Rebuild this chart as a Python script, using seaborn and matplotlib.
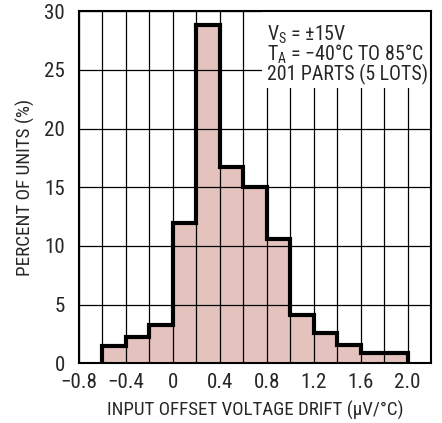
import numpy as np
import pandas as pd
import matplotlib
matplotlib.use("Agg")
import matplotlib.pyplot as plt
import seaborn as sns
from matplotlib.patches import Rectangle

# bin edges (uV/C) and percent of units in each bin
bin_edges = [-0.6, -0.4, -0.2, 0.0, 0.2, 0.4, 0.6, 0.8, 1.0, 1.2, 1.4, 1.6, 1.8, 2.0]
percent = [1.5, 2.2, 3.3, 12.0, 28.8, 16.7, 15.0, 10.6, 4.1, 2.6, 1.6, 0.9, 0.9]
xtick_vals = [-0.8, -0.4, 0.0, 0.4, 0.8, 1.2, 1.6, 2.0]
xtick_labels = ["\u22120.8", "\u22120.4", "0", "0.4", "0.8", "1.2", "1.6", "2.0"]
ytick_vals = [0, 5, 10, 15, 20, 25, 30]
notes = ["V$_{\\mathregular{S}}$ = \u00b115V",
         "T$_{\\mathregular{A}}$ = \u221240\u00b0C TO 85\u00b0C",
         "201 PARTS (5 LOTS)"]

sns.set_style("white")
plt.rcParams['font.family'] = ['Roboto Condensed', 'DejaVu Sans Condensed',
                               'Liberation Sans', 'DejaVu Sans']
plt.rcParams['font.stretch'] = 'condensed'

edges = np.array(bin_edges)
df = pd.DataFrame({"drift": (edges[:-1] + edges[1:]) / 2, "pct": percent})

fig = plt.figure(figsize=(4.42, 4.23), dpi=100)
ax = fig.add_axes([79 / 442, 1 - 363.3 / 423, 352 / 442, 352 / 423])

# filled bars
sns.histplot(data=df, x="drift", weights="pct", bins=list(bin_edges), stat="count",
             color="#e4c2bd", alpha=1, linewidth=0, ax=ax)
# thick outline of the histogram
ax.stairs(percent, edges, color="black", linewidth=3, baseline=0, zorder=4)

ax.set_xlim(-0.8, 2.2)
ax.set_ylim(0, 30)
ax.set_xticks(xtick_vals)
ax.set_xticklabels(xtick_labels)
ax.set_xticks(np.arange(-0.8, 2.21, 0.2), minor=True)
ax.set_yticks(ytick_vals)
ax.grid(True, which="both", color="black", linewidth=0.9)
ax.set_axisbelow(False)
ax.tick_params(which="both", length=0, labelsize=12.5)
for s in ax.spines.values():
    s.set_color("black")
    s.set_linewidth(1.5)
    s.set_zorder(5)

ax.set_xlabel("INPUT OFFSET VOLTAGE DRIFT (\u03bcV/\u00b0C)", fontsize=12.5)
ax.set_ylabel("PERCENT OF UNITS (%)", fontsize=12.5)

# white box behind the notes
ax.add_patch(Rectangle((0.52, 0.782), 0.48, 0.218, transform=ax.transAxes,
                       facecolor="white", edgecolor="none", zorder=3))
note_texts = []
for note, yb in zip(notes, [0.916, 0.861, 0.805]):
    note_texts.append(ax.text(0.534, yb, note, transform=ax.transAxes, fontsize=14,
                              va="baseline", ha="left", zorder=6))

# fit text sizes to the reference (pixels)
fig.canvas.draw()
def scaled(txt, length, vertical=False):
    bb = txt.get_window_extent()
    return txt.get_fontsize() * length / (bb.height if vertical else bb.width)

tick_size = scaled(ax.get_xticklabels()[0], 37)
ax.tick_params(which="both", labelsize=tick_size)
ax.tick_params(axis="y", pad=10)
ax.tick_params(axis="x", pad=7)
ax.xaxis.label.set_fontsize(scaled(ax.xaxis.label, 297))
ax.yaxis.label.set_fontsize(scaled(ax.yaxis.label, 178, vertical=True))
ax.xaxis.labelpad = 6
ax.yaxis.labelpad = 7
note_size = scaled(note_texts[2], 161)
for t in note_texts:
    t.set_fontsize(note_size)

fig.savefig("out.png", dpi=100)
